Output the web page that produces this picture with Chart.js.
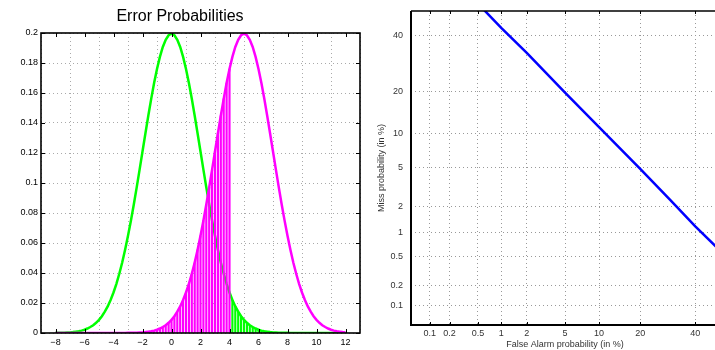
<!DOCTYPE html>
<html lang="en">
  <head>
    <meta charset="UTF-8" />
    <title>Error Probabilities</title>
    <script src="https://cdn.jsdelivr.net/npm/chart.js"></script>
    <style>
      html, body { margin: 0; padding: 0; background: #fff; overflow: hidden; }
      body { position: relative; width: 715px; height: 350px; }
      #leftBox { position: absolute; left: 0; top: 0; width: 368px; height: 350px; }
      #rightBox { position: absolute; left: 360px; top: 0; width: 365px; height: 350px; }
    </style>
  </head>
  <body>
    <div id="leftBox"><canvas id="errChart"></canvas></div>
    <div id="rightBox"><canvas id="detChart"></canvas></div>
    <script>
      // score axis, step 0.2
      const scores = [
        -8, -7.8, -7.6, -7.4, -7.2, -7, -6.8, -6.6, -6.4, -6.2, -6, -5.8, -5.6, -5.4, -5.2, -5, -4.8, -4.6, -4.4, -4.2,
        -4, -3.8, -3.6, -3.4, -3.2, -3, -2.8, -2.6, -2.4, -2.2, -2, -1.8, -1.6, -1.4, -1.2, -1, -0.8, -0.6, -0.4, -0.2,
        0, 0.2, 0.4, 0.6, 0.8, 1, 1.2, 1.4, 1.6, 1.8, 2, 2.2, 2.4, 2.6, 2.8, 3, 3.2, 3.4, 3.6, 3.8,
        4, 4.2, 4.4, 4.6, 4.8, 5, 5.2, 5.4, 5.6, 5.8, 6, 6.2, 6.4, 6.6, 6.8, 7, 7.2, 7.4, 7.6, 7.8,
        8, 8.2, 8.4, 8.6, 8.8, 9, 9.2, 9.4, 9.6, 9.8, 10, 10.2, 10.4, 10.6, 10.8, 11, 11.2, 11.4, 11.6, 11.8, 12
      ];

      // impostor scores (green)
      const impostor = [
        0.0001, 0.0001, 0.0001, 0.0002, 0.0003, 0.0004, 0.0006, 0.0009, 0.0012, 0.0016,
        0.0022, 0.0030, 0.0040, 0.0052, 0.0068, 0.0088, 0.0112, 0.0142, 0.0177, 0.0220,
        0.0270, 0.0328, 0.0395, 0.0470, 0.0555, 0.0648, 0.0749, 0.0857, 0.0971, 0.1089,
        0.1210, 0.1330, 0.1448, 0.1561, 0.1666, 0.1760, 0.1841, 0.1907, 0.1955, 0.1985,
        0.1995,
        0.1985, 0.1955, 0.1907, 0.1841, 0.1760, 0.1666, 0.1561, 0.1448, 0.1330, 0.1210,
        0.1089, 0.0971, 0.0857, 0.0749, 0.0648, 0.0555, 0.0470, 0.0395, 0.0328, 0.0270,
        0.0220, 0.0177, 0.0142, 0.0112, 0.0088, 0.0068, 0.0052, 0.0040, 0.0030, 0.0022,
        0.0016, 0.0012, 0.0009, 0.0006, 0.0004, 0.0003, 0.0002, 0.0001, 0.0001, 0.0001,
        0, 0, 0, 0, 0, 0, 0, 0, 0, 0, 0, 0, 0, 0, 0, 0, 0, 0, 0, 0
      ];

      // genuine scores (magenta)
      const genuine = [
        0, 0, 0, 0, 0, 0, 0, 0, 0, 0, 0, 0, 0, 0, 0, 0, 0, 0, 0, 0, 0, 0, 0, 0, 0,
        0.0001, 0.0001, 0.0001, 0.0002, 0.0003, 0.0004, 0.0006, 0.0009, 0.0012, 0.0016,
        0.0022, 0.0030, 0.0040, 0.0052, 0.0068, 0.0088, 0.0112, 0.0142, 0.0177, 0.0220,
        0.0270, 0.0328, 0.0395, 0.0470, 0.0555, 0.0648, 0.0749, 0.0857, 0.0971, 0.1089,
        0.1210, 0.1330, 0.1448, 0.1561, 0.1666, 0.1760, 0.1841, 0.1907, 0.1955, 0.1985,
        0.1995,
        0.1985, 0.1955, 0.1907, 0.1841, 0.1760, 0.1666, 0.1561, 0.1448, 0.1330, 0.1210,
        0.1089, 0.0971, 0.0857, 0.0749, 0.0648, 0.0555, 0.0470, 0.0395, 0.0328, 0.0270,
        0.0220, 0.0177, 0.0142, 0.0112, 0.0088, 0.0068, 0.0052, 0.0040, 0.0030, 0.0022,
        0.0016, 0.0012, 0.0009, 0.0006, 0.0004
      ];

      const threshold = 4;
      const scoreTicks = [-8, -6, -4, -2, 0, 2, 4, 6, 8, 10, 12];

      // DET curve (in %)
      const falseAlarm = [0.6, 1, 2, 5, 10, 20, 30, 40, 50];
      const missProb = [50.5, 43, 33, 19.6, 11.2, 4.9, 2.4, 1.2, 0.62];
      const probTicks = [0.1, 0.2, 0.5, 1, 2, 5, 10, 20, 40];

      const sans = "'Liberation Sans', Arial, sans-serif";

      // inverse normal cdf (Acklam)
      function probit(p) {
        const a = [-39.69683028665376, 220.9460984245205, -275.9285104469687, 138.357751867269, -30.66479806614716, 2.506628277459239];
        const b = [-54.47609879822406, 161.5858368580409, -155.6989798598866, 66.80131188771972, -13.28068155288572];
        const c = [-0.007784894002430293, -0.3223964580411365, -2.400758277161838, -2.549732539343734, 4.374664141464968, 2.938163982698783];
        const d = [0.007784695709041462, 0.3224671290700398, 2.445134137142996, 3.754408661907416];
        const pl = 0.02425;
        let q, r;
        if (p < pl) {
          q = Math.sqrt(-2 * Math.log(p));
          return (((((c[0] * q + c[1]) * q + c[2]) * q + c[3]) * q + c[4]) * q + c[5]) / ((((d[0] * q + d[1]) * q + d[2]) * q + d[3]) * q + 1);
        }
        if (p > 1 - pl) {
          q = Math.sqrt(-2 * Math.log(1 - p));
          return -(((((c[0] * q + c[1]) * q + c[2]) * q + c[3]) * q + c[4]) * q + c[5]) / ((((d[0] * q + d[1]) * q + d[2]) * q + d[3]) * q + 1);
        }
        q = p - 0.5;
        r = q * q;
        return (((((a[0] * r + a[1]) * r + a[2]) * r + a[3]) * r + a[4]) * r + a[5]) * q / (((((b[0] * r + b[1]) * r + b[2]) * r + b[3]) * r + b[4]) * r + 1);
      }

      // normal deviate scale, values in %
      class ProbitScale extends Chart.Scale {
        determineDataLimits() {
          this.min = this.options.min;
          this.max = this.options.max;
        }
        buildTicks() {
          return probTicks.map((v) => ({ value: v }));
        }
        configure() {
          super.configure();
          this._zMin = probit(this.min / 100);
          this._zMax = probit(this.max / 100);
        }
        getLabelForValue(v) {
          return String(v);
        }
        getPixelForValue(v) {
          if (v === null || v === undefined || isNaN(v) || v <= 0 || v >= 100) return NaN;
          return this.getPixelForDecimal((probit(v / 100) - this._zMin) / (this._zMax - this._zMin));
        }
        getValueForPixel(px) {
          const dec = this.getDecimalForPixel(px);
          const target = this._zMin + dec * (this._zMax - this._zMin);
          let lo = 1e-6, hi = 100 - 1e-6;
          for (let i = 0; i < 50; i++) {
            const mid = (lo + hi) / 2;
            if (probit(mid / 100) < target) lo = mid; else hi = mid;
          }
          return lo;
        }
      }
      ProbitScale.id = "probit";
      ProbitScale.defaults = {};
      Chart.register(ProbitScale);

      const toPoints = (xs, ys) => xs.map((x, i) => ({ x: x, y: ys[i] }));
      const genuineStems = toPoints(scores, genuine).filter((p) => p.x <= threshold);
      const impostorStems = toPoints(scores, impostor).filter((p) => p.x > threshold);

      const boxFrame = {
        id: "boxFrame",
        afterDatasetsDraw(chart) {
          const { ctx, chartArea: a, scales } = chart;
          const len = 4;
          ctx.save();
          ctx.strokeStyle = "#000";
          ctx.lineWidth = 1;
          ctx.beginPath();
          scales.x.ticks.forEach((t) => {
            const px = Math.round(scales.x.getPixelForValue(t.value)) + 0.5;
            ctx.moveTo(px, a.bottom); ctx.lineTo(px, a.bottom - len);
            ctx.moveTo(px, a.top); ctx.lineTo(px, a.top + len);
          });
          scales.y.ticks.forEach((t) => {
            const py = Math.round(scales.y.getPixelForValue(t.value)) + 0.5;
            ctx.moveTo(a.left, py); ctx.lineTo(a.left + len, py);
            ctx.moveTo(a.right, py); ctx.lineTo(a.right - len, py);
          });
          ctx.stroke();
          ctx.lineWidth = 1.6;
          ctx.strokeRect(a.left, a.top, a.right - a.left, a.bottom - a.top);
          ctx.restore();
        },
      };

      const detFrame = {
        id: "detFrame",
        afterDatasetsDraw(chart) {
          const { ctx, chartArea: a, scales } = chart;
          ctx.save();
          ctx.strokeStyle = "#000";
          ctx.lineWidth = 1;
          ctx.beginPath();
          scales.x.ticks.forEach((t) => {
            const px = Math.round(scales.x.getPixelForValue(t.value)) + 0.5;
            ctx.moveTo(px, a.top); ctx.lineTo(px, a.top + 3);
            ctx.moveTo(px, a.bottom); ctx.lineTo(px, a.bottom - 3);
          });
          ctx.stroke();
          ctx.lineWidth = 1.5;
          ctx.beginPath();
          ctx.moveTo(a.left, a.top); ctx.lineTo(a.right + 10, a.top);
          ctx.stroke();
          ctx.lineWidth = 2;
          ctx.beginPath();
          ctx.moveTo(a.left, a.top); ctx.lineTo(a.left, a.bottom); ctx.lineTo(a.right + 10, a.bottom);
          ctx.stroke();
          ctx.restore();
        },
      };

      window.onload = function () {
        new Chart(document.getElementById("errChart"), {
          type: "line",
          data: {
            datasets: [
              {
                label: "genuine",
                data: toPoints(scores, genuine),
                borderColor: "#ff00ff",
                borderWidth: 2.5,
                pointRadius: 0,
                order: 0,
              },
              {
                type: "bar",
                label: "miss",
                data: genuineStems,
                backgroundColor: "#ff00ff",
                barThickness: 1.5,
                grouped: false,
                order: 1,
              },
              {
                type: "bar",
                label: "false alarm",
                data: impostorStems,
                backgroundColor: "#00ff00",
                barThickness: 1.5,
                grouped: false,
                order: 2,
              },
              {
                label: "impostor",
                data: toPoints(scores, impostor),
                borderColor: "#00ff00",
                borderWidth: 2.5,
                pointRadius: 0,
                order: 3,
              },
            ],
          },
          options: {
            responsive: true,
            maintainAspectRatio: false,
            animation: false,
            events: [],
            layout: { padding: { left: 0, right: 8, top: 0, bottom: 0 } },
            plugins: {
              legend: { display: false },
              tooltip: { enabled: false },
              title: {
                display: true,
                text: "Error Probabilities",
                color: "#000",
                font: { family: sans, size: 16, weight: "normal" },
                padding: { top: 7, bottom: 6.8 },
              },
            },
            scales: {
              x: {
                type: "linear",
                min: -8,
                max: 12,
                afterBuildTicks: (s) => { s.ticks = scoreTicks.map((v) => ({ value: v })); },
                afterFit: (s) => { s.height = 17; },
                grid: { color: "#aaa", drawTicks: false },
                border: { display: false, dash: [1, 3] },
                ticks: {
                  padding: 4,
                  color: "#000",
                  font: { family: sans, size: 9 },
                  maxRotation: 0,
                  callback: (v) => String(v).replace("-", "\u2212"),
                },
              },
              y: {
                min: 0,
                max: 0.2,
                afterFit: (s) => { s.width = 41; },
                grid: { color: "#aaa", drawTicks: false },
                border: { display: false, dash: [1, 3] },
                ticks: {
                  stepSize: 0.02,
                  padding: 3,
                  color: "#000",
                  font: { family: sans, size: 9 },
                  callback: (v) => String(+v.toFixed(2)),
                },
              },
            },
          },
          plugins: [boxFrame],
        });

        new Chart(document.getElementById("detChart"), {
          type: "line",
          data: {
            datasets: [
              {
                label: "DET",
                data: toPoints(falseAlarm, missProb),
                borderColor: "#0000ff",
                borderWidth: 2.5,
                pointRadius: 0,
              },
            ],
          },
          options: {
            responsive: true,
            maintainAspectRatio: false,
            animation: false,
            events: [],
            layout: { padding: { left: 0, right: 6, top: 11, bottom: 0 } },
            plugins: { legend: { display: false }, tooltip: { enabled: false } },
            scales: {
              x: {
                type: "probit",
                position: "bottom",
                min: 0.05,
                max: 50,
                afterFit: (s) => { s.height = 25; },
                grid: { color: "#999", drawTicks: false },
                border: { display: false, dash: [1, 3] },
                ticks: { padding: 3, color: "#333", font: { family: sans, size: 9 }, maxRotation: 0, autoSkip: false },
                title: {
                  display: true,
                  text: "False Alarm probability (in %)",
                  color: "#333",
                  font: { family: sans, size: 9 },
                  padding: { top: 0, bottom: 0 },
                },
              },
              y: {
                type: "probit",
                position: "left",
                min: 0.05,
                max: 50,
                afterFit: (s) => {
                  s.width = 51;
                  s.paddingTop = 0;
                  s.paddingBottom = 0;
                },
                grid: { color: "#999", drawTicks: false },
                border: { display: false, dash: [1, 3] },
                ticks: { padding: 8, color: "#333", font: { family: sans, size: 9 }, autoSkip: false },
                title: {
                  display: true,
                  text: "Miss probability (in %)",
                  color: "#333",
                  font: { family: sans, size: 9 },
                  padding: { top: 16, bottom: 0 },
                },
              },
            },
          },
          plugins: [detFrame],
        });
      };
    </script>
  </body>
</html>
